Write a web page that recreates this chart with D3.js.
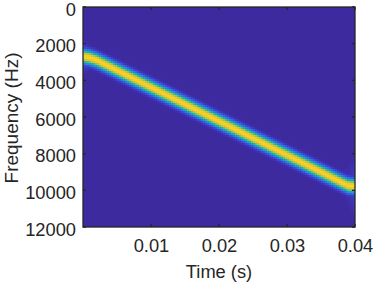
<!DOCTYPE html>
<html><head><meta charset="utf-8">
<script src="https://cdn.jsdelivr.net/npm/d3@7"></script>
<style>html,body{margin:0;padding:0;background:#fff}svg{display:block}text{font-family:"Liberation Sans",Arial,sans-serif;fill:#262626}</style>
</head><body><div id="c"></div>
<script>
// Ridge of the spectrogram
const ridgeTimes = [0,0.001,0.002,0.004,0.008,0.012,0.016,0.02,0.024,0.028,0.032,0.036,0.038,0.039,0.04];
const ridgeFreqs = [2700,2770,2900,3270,4010,4750,5490,6230,6970,7710,8450,9190,9570,9750,9780];
// Cross-section of the ridge: offset from centre (Hz) to level (0..1)
const profileOffsets = [-680,-560,-460,-375,-290,-210,-110,0,110,210,290,375,460,560,680];
const profileLevels  = [0,0.06,0.17,0.32,0.5,0.7,0.92,1,0.92,0.7,0.5,0.32,0.17,0.06,0];
// Colormap stops
const mapLevels = [0,0.12,0.25,0.38,0.5,0.62,0.75,0.88,1];
const mapColors = ["#3d2a9f","#4143d8","#2f6fe8","#1a9bd2","#13b5a8","#4fc67a","#b5c83c","#f0ba36","#f8d820"];
// Edge leakage near the first and last columns
const leakTimes  = [0,0.0006,0.0012,0.0024,0.036,0.0385,0.0395,0.04];
const leakLevels = [0.24,0.16,0.08,0,0,0.03,0.08,0.14];
const leakSpread = [1000,900,750,500,400,900,1500,2000];
const xTicks = [0.01,0.02,0.03,0.04];
const yTicks = [0,2000,4000,6000,8000,10000,12000];
const xLabel = "Time (s)", yLabel = "Frequency (Hz)";

const W=374,H=284,m={l:83,t:7,r:355,b:227};
const x=d3.scaleLinear([0,0.04],[m.l,m.r]);
const y=d3.scaleLinear([0,12000],[m.t,m.b]);
const ridge=d3.scaleLinear(ridgeTimes,ridgeFreqs);
const profile=d3.scaleLinear(profileOffsets,profileLevels).clamp(true);
const color=d3.scaleLinear(mapLevels,mapColors).clamp(true);
const leak=d3.scaleLinear(leakTimes,leakLevels).clamp(true);
const spread=d3.scaleLinear(leakTimes,leakSpread).clamp(true);
const svg=d3.select("#c").append("svg").attr("width",W).attr("height",H);

const dt=x.invert(m.l+2)-x.invert(m.l), df=y.invert(m.t+2)-y.invert(m.t);
const cells=[];
for(const t of d3.range(0,0.04,dt)) for(const f of d3.range(0,12000,df)){
  const c=t+dt/2, g=f+df/2, off=g-ridge(c);
  const fade=Math.max(0,1-Math.abs(off)/spread(c));
  cells.push({t,f,v:Math.max(profile(off),leak(c)*fade)});
}
svg.append("g").attr("shape-rendering","crispEdges").selectAll("rect").data(cells).join("rect")
 .attr("x",d=>x(d.t)).attr("y",d=>y(d.f)).attr("width",d=>Math.min(x(d.t+dt),m.r)-x(d.t)).attr("height",d=>Math.min(y(d.f+df),m.b)-y(d.f))
 .attr("fill",d=>color(d.v));

const ink="#262626";
const frame=svg.append("g").attr("stroke",ink).attr("fill","none").attr("stroke-width",1.3);
frame.append("rect").attr("x",m.l).attr("y",m.t).attr("width",m.r-m.l).attr("height",m.b-m.t);
const ax=d3.axisBottom(x).tickValues(xTicks).tickFormat(d3.format(".2f")).tickSize(0).tickPadding(12);
const ay=d3.axisLeft(y).tickValues(yTicks).tickFormat(d=>d).tickSize(0).tickPadding(7);
const gx=svg.append("g").attr("transform",`translate(0,${m.b})`).call(ax);
const gy=svg.append("g").attr("transform",`translate(${m.l},0)`).call(ay);
[gx,gy].forEach(g=>{g.select(".domain").remove();g.selectAll("text").attr("font-size",18.3).attr("fill",ink)});
gy.selectAll("text").attr("dy","8px");
frame.selectAll(".xt").data(xTicks).join("path").attr("d",d=>`M${x(d)},${m.b}v-3M${x(d)},${m.t}v3`);
frame.selectAll(".yt").data(yTicks).join("path").attr("d",d=>`M${m.l},${y(d)}h3M${m.r},${y(d)}h-3`);
svg.append("text").attr("x",219).attr("y",278).attr("text-anchor","middle").attr("font-size",18.3).text(xLabel);
svg.append("text").attr("transform","translate(18,118) rotate(-90)").attr("text-anchor","middle").attr("font-size",19).text(yLabel);
</script></body></html>
